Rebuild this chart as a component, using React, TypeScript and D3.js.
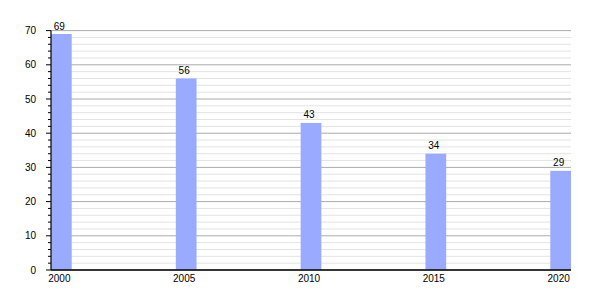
import React from "react";
import * as d3 from "d3";

const years = [2000, 2005, 2010, 2015, 2020];
const values = [69, 56, 43, 34, 29];
const yTicks = [0, 10, 20, 30, 40, 50, 60, 70];

export default function App() {
  const W = 600, H = 300;
  const left = 51, right = 571, top = 30.6, bottom = 270;
  const barW = 20.7;
  const x = d3.scaleLinear().domain([2000, 2020]).range([left, right - barW]);
  const y = d3.scaleLinear().domain([0, 70]).range([bottom, top]);
  const minor = d3.range(0, 70.001, 2);
  const font = "'Liberation Sans', Arial, sans-serif";
  return (
    <svg width={W} height={H} style={{ position: "absolute", left: 0, top: 0, background: "#fff" }}>
      {minor.filter(v => v % 10 !== 0).map(v => (
        <line key={"m" + v} x1={left} x2={right} y1={y(v)} y2={y(v)} stroke="#e3e3e3" strokeWidth={1} />
      ))}
      {yTicks.map(v => (
        <line key={"g" + v} x1={left} x2={right} y1={y(v)} y2={y(v)} stroke="#aaaaaa" strokeWidth={1} />
      ))}
      {years.map((yr, i) => (
        <rect key={yr} x={x(yr)} y={y(values[i])} width={barW} height={bottom - y(values[i])} fill="#99aaff" />
      ))}
      {minor.map(v => (
        <line key={"t" + v} x1={v % 10 === 0 ? left - 5 : left - 3} x2={left} y1={y(v)} y2={y(v)} stroke="#000" strokeWidth={1} />
      ))}
      <line x1={left} x2={left} y1={top} y2={bottom} stroke="#000" strokeWidth={1.2} />
      <line x1={left} x2={right} y1={bottom} y2={bottom} stroke="#000" strokeWidth={1.5} />
      {yTicks.map(v => (
        <text key={"l" + v} x={36} y={y(v)} dy="0.35em" textAnchor="end" fontFamily={font} fontSize={10} fill="#000">{v}</text>
      ))}
      {years.map((yr) => (
        <text key={"x" + yr} x={x(yr) + barW / 2 - 2} y={282} textAnchor="middle" fontFamily={font} fontSize={10} fill="#000">{yr}</text>
      ))}
      {years.map((yr, i) => (
        <text key={"v" + yr} x={x(yr) + barW / 2 - 2} y={y(values[i]) - 4.5} textAnchor="middle" fontFamily={font} fontSize={10} fill="#000">{values[i]}</text>
      ))}
    </svg>
  );
}
